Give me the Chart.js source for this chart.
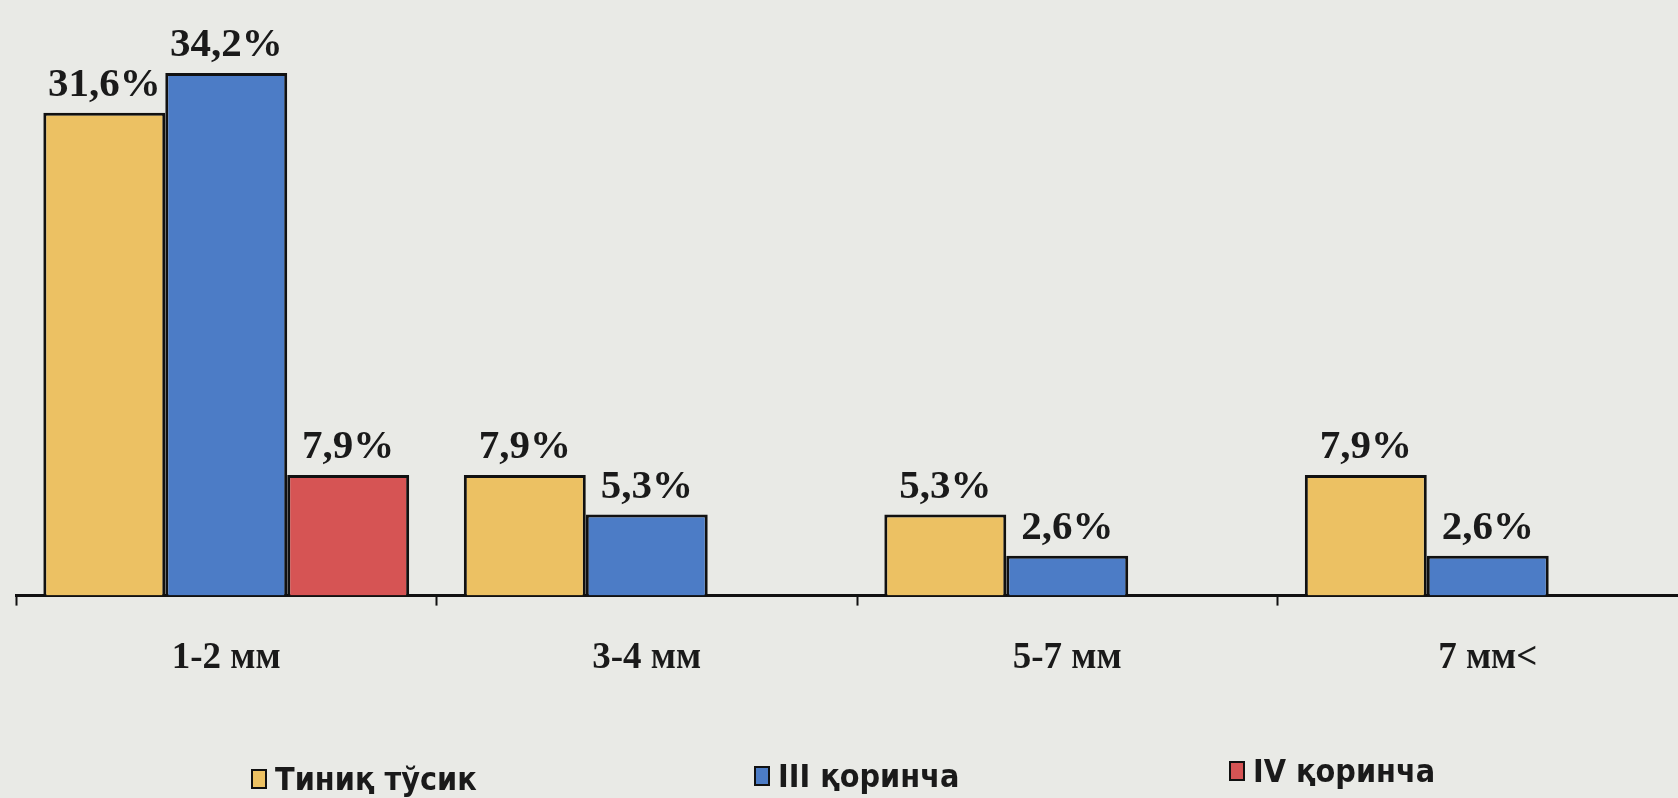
<!DOCTYPE html>
<html>
<head>
<meta charset="utf-8">
<script src="https://cdn.jsdelivr.net/npm/chart.js@4"></script>
<style>
  html, body { margin: 0; padding: 0; background: #e9eae6; overflow: hidden; }
  #wrap { position: relative; width: 1700px; height: 798px; }
  #legend { position: absolute; left: 0; top: 0; width: 1678px; height: 798px; pointer-events: none; }
  .item { position: absolute; display: flex; align-items: center;
          font-family: "Liberation Sans Narrow", "DejaVu Sans Condensed", sans-serif; font-weight: bold;
          font-stretch: condensed; font-size: 32px; color: #1a1a1a; }
  .box { width: 12px; height: 16px; border: 2px solid #111; margin-right: 8px; }
</style>
</head>
<body>
<div id="wrap">
  <canvas id="myBarChart" width="1700" height="798"></canvas>
  <div id="legend"></div>
</div>
<script>
// categories (hole size)
var categories = ["1-2 мм", "3-4 мм", "5-7 мм", "7 мм<"];

// series names
var seriesNames = ["Тиниқ тўсик", "III қоринча", "IV қоринча"];

// values in percent
var clearSeptum = [31.6, 7.9, 5.3, 7.9];
var thirdVentricle = [34.2, 5.3, 2.6, 2.6];
var fourthVentricle = [7.9, null, null, null];

var colorArray = ["#ecc163", "#4c7cc6", "#d65454"];

//draws the % text above every bar
var valueLabels = {
	id: "valueLabels",
	afterDatasetsDraw: function(chart) {
		var ctx = chart.ctx;
		ctx.save();
		ctx.font = "bold 41px 'Liberation Serif'";
		ctx.fillStyle = "#1a1a1a";
		ctx.textAlign = "center";
		ctx.textBaseline = "alphabetic";
		chart.data.datasets.forEach(function(ds, i) {
			var meta = chart.getDatasetMeta(i);
			meta.data.forEach(function(bar, j) {
				var v = ds.data[j];
				if (v === null || v === undefined) return;
				var txt = String(v.toFixed(1)).replace(".", ",") + "%";
				ctx.fillText(txt, bar.x, bar.y - 17);
			});
		});
		ctx.restore();
	}
};

var dataBars = {
	labels: categories,
	datasets: [
		{ label: seriesNames[0], data: clearSeptum, backgroundColor: colorArray[0] },
		{ label: seriesNames[1], data: thirdVentricle, backgroundColor: colorArray[1] },
		{ label: seriesNames[2], data: fourthVentricle, backgroundColor: colorArray[2] }
	]
};
dataBars.datasets.forEach(function(ds) {
	ds.borderColor = "#111";
	ds.borderWidth = 3;
	ds.borderSkipped = "start";
	ds.categoryPercentage = 0.87;
	ds.barPercentage = 1.0;
});

var bar_ctx = document.getElementById("myBarChart");
var myBarChart = new Chart(bar_ctx, {
	type: "bar",
	data: dataBars,
	options: {
		responsive: false,
		animation: false,
		layout: { padding: { left: 16, right: 2, top: 15, bottom: 86 } },
		plugins: {
			legend: { display: false },
			tooltip: { enabled: false }
		},
		scales: {
			x: {
				grid: { drawOnChartArea: false, drawTicks: true, tickLength: 10, tickWidth: 2, tickColor: "#111", offset: true },
				border: { display: true, color: "#111", width: 3 },
				ticks: {
					color: "#1a1a1a",
					padding: 31,
					font: { family: "'Liberation Serif'", weight: "bold", size: 37 }
				}
			},
			y: {
				display: false,
				min: 0,
				max: 38
			}
		}
	},
	plugins: [valueLabels]
});

//html legend under the chart
var legendLeft = [251, 754, 1229];
var legendTop = [760, 757, 752];
var legendDiv = document.getElementById("legend");
dataBars.datasets.forEach(function(ds, i) {
	var item = document.createElement("div");
	item.className = "item";
	item.style.left = legendLeft[i] + "px";
	item.style.top = legendTop[i] + "px";
	var box = document.createElement("span");
	box.className = "box";
	box.style.background = ds.backgroundColor;
	var txt = document.createElement("span");
	txt.textContent = ds.label;
	item.appendChild(box);
	item.appendChild(txt);
	legendDiv.appendChild(item);
});
</script>
</body>
</html>
